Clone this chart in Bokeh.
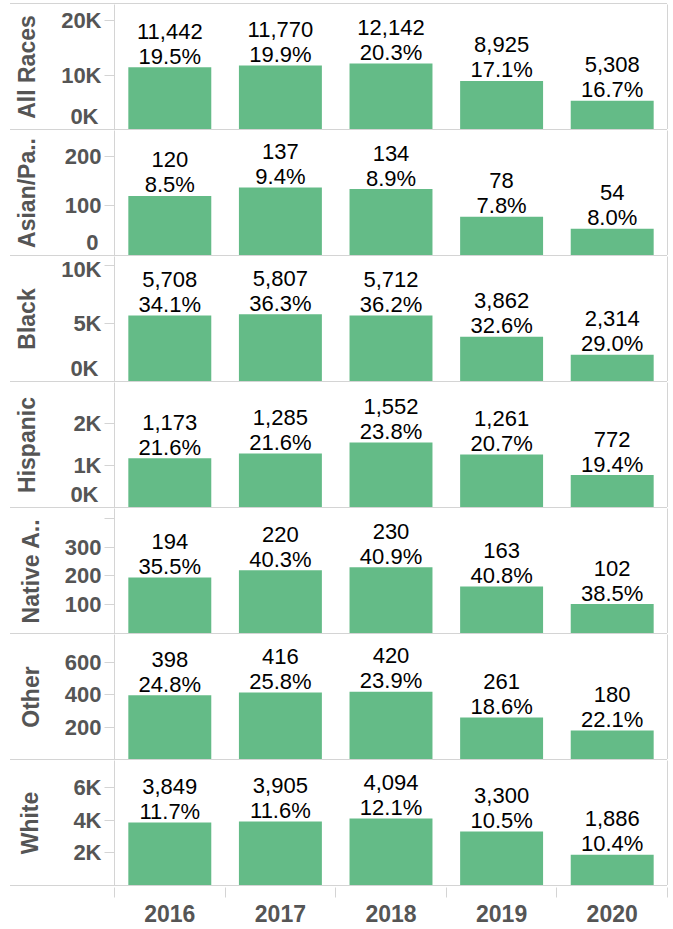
from bokeh.plotting import figure
from bokeh.layouts import column
from bokeh.models import (ColumnDataSource, FactorRange, Range1d, FixedTicker,
                          LinearAxis, CategoricalAxis, Div)
from bokeh.core.properties import value
from bokeh.embed import file_html
from bokeh.resources import INLINE

# ---------------- data ----------------
years = ["2016", "2017", "2018", "2019", "2020"]

all_races = [11442, 11770, 12142, 8925, 5308]
all_races_pct = [19.5, 19.9, 20.3, 17.1, 16.7]
asian = [120, 137, 134, 78, 54]
asian_pct = [8.5, 9.4, 8.9, 7.8, 8.0]
black = [5708, 5807, 5712, 3862, 2314]
black_pct = [34.1, 36.3, 36.2, 32.6, 29.0]
hispanic = [1173, 1285, 1552, 1261, 772]
hispanic_pct = [21.6, 21.6, 23.8, 20.7, 19.4]
native = [194, 220, 230, 163, 102]
native_pct = [35.5, 40.3, 40.9, 40.8, 38.5]
other = [398, 416, 420, 261, 180]
other_pct = [24.8, 25.8, 23.9, 18.6, 22.1]
white = [3849, 3905, 4094, 3300, 1886]
white_pct = [11.7, 11.6, 12.1, 10.5, 10.4]

groups = ["All Races", "Asian/Pa..", "Black", "Hispanic", "Native A..", "Other", "White"]

# labelled ticks (the 0 value is shown as a label only), unlabelled ticks
all_races_ticks = [10000, 20000]
all_races_tick_labels = ["10K", "20K"]
all_races_zero_label = "0K"
asian_ticks = [100, 200]
asian_tick_labels = ["100", "200"]
asian_zero_label = "0"
black_ticks = [5000, 10000]
black_tick_labels = ["5K", "10K"]
black_zero_label = "0K"
hispanic_ticks = [1000, 2000]
hispanic_tick_labels = ["1K", "2K"]
hispanic_zero_label = "0K"
native_ticks = [100, 200, 300]
native_tick_labels = ["100", "200", "300"]
native_unlabelled_ticks = [400]
other_ticks = [200, 400, 600]
other_tick_labels = ["200", "400", "600"]
white_ticks = [2000, 4000, 6000]
white_tick_labels = ["2K", "4K", "6K"]

# axis extents (layout)
y_max = [23000, 252, 10800, 2980, 434, 775, 7640]

panels = [
    (groups[0], all_races, all_races_pct, all_races_ticks, all_races_tick_labels, [], all_races_zero_label),
    (groups[1], asian, asian_pct, asian_ticks, asian_tick_labels, [], asian_zero_label),
    (groups[2], black, black_pct, black_ticks, black_tick_labels, [], black_zero_label),
    (groups[3], hispanic, hispanic_pct, hispanic_ticks, hispanic_tick_labels, [], hispanic_zero_label),
    (groups[4], native, native_pct, native_ticks, native_tick_labels, native_unlabelled_ticks, None),
    (groups[5], other, other_pct, other_ticks, other_tick_labels, [], None),
    (groups[6], white, white_pct, white_ticks, white_tick_labels, [], None),
]

# ---------------- style ----------------
BAR = "#64BB87"
LINE = "#D4D4D4"
AXIS_TXT = "#555555"
FONT = "Liberation Sans"
FRAME_W = 553
FRAME_H = 125
LEFT = 114
TICK_OUT = 10
TICK_STANDOFF = 3
TICK_FS = 22
ZERO_LIFT_PX = 13       # zero label sits inside the panel
ROW_LABEL_POS = 55      # controls the x position of the row titles
LINE_X0 = 10
LINE_W = LEFT + FRAME_W - LINE_X0


def label_width(s, size=TICK_FS):
    return sum(0.722 if ch == "K" else 0.556 for ch in s) * size


def style_axis_text(ax):
    ax.major_label_text_font = FONT
    ax.major_label_text_font_size = f"{TICK_FS}px"
    ax.major_label_text_font_style = "bold"
    ax.major_label_text_color = AXIS_TXT


def style_axis_title(ax, name, standoff):
    ax.axis_label = name
    ax.axis_label_text_font = FONT
    ax.axis_label_text_font_size = "23px"
    ax.axis_label_text_font_style = "bold"
    ax.axis_label_text_color = AXIS_TXT
    ax.axis_label_standoff = int(round(standoff))


def hline(top=0):
    return Div(width=LINE_W, height=1, margin=(top, 0, 0, LINE_X0),
               styles={"background-color": LINE, "overflow": "hidden",
                       "line-height": "0", "font-size": "0"})


items = [hline(3)]
x_range = FactorRange(*years, range_padding=0)
for k, (name, vals, pcts, ticks, tlabels, unlabelled, zero_label) in enumerate(panels):
    p = figure(frame_width=FRAME_W, frame_height=FRAME_H,
               x_range=x_range, y_range=Range1d(0, y_max[k]),
               output_backend="svg", toolbar_location=None,
               x_axis_location=None, y_axis_location=None,
               min_border_left=LEFT, min_border_right=1,
               min_border_top=0, min_border_bottom=0,
               outline_line_color=None, margin=0,
               background_fill_color="white", border_fill_color="white")
    p.xgrid.visible = False
    p.ygrid.visible = False

    src = ColumnDataSource(dict(
        year=years, val=vals,
        cnt=[f"{v:,}" for v in vals],
        pct=[f"{x:.1f}%" for x in pcts],
    ))
    p.vbar(x="year", top="val", width=0.75, source=src,
           fill_color=BAR, line_color=None)
    p.text(x="year", y="val", text="pct", source=src, y_offset=-11,
           text_align="center", text_baseline="alphabetic",
           text_font=value(FONT), text_font_size="22px", text_color="#000000")
    p.text(x="year", y="val", text="cnt", source=src, y_offset=-36,
           text_align="center", text_baseline="alphabetic",
           text_font=value(FONT), text_font_size="22px", text_color="#000000")

    # main y axis: tick marks + labels
    ax = LinearAxis(ticker=FixedTicker(ticks=ticks, minor_ticks=unlabelled),
                    major_label_overrides=dict(zip(ticks, tlabels)),
                    major_tick_out=TICK_OUT, major_tick_in=0,
                    minor_tick_out=TICK_OUT, minor_tick_in=0,
                    major_tick_line_color=LINE, minor_tick_line_color=LINE,
                    axis_line_color=LINE, major_label_standoff=TICK_STANDOFF)
    style_axis_text(ax)
    p.add_layout(ax, "left")
    maxw = max(label_width(l) for l in tlabels)

    if zero_label is not None:
        # zero label, lifted inside the panel, no tick mark
        zpos = ZERO_LIFT_PX / FRAME_H * y_max[k]
        z = LinearAxis(ticker=FixedTicker(ticks=[zpos]),
                       major_label_overrides={zpos: zero_label},
                       major_tick_out=0, major_tick_in=0,
                       major_tick_line_color=None, minor_tick_line_color=None,
                       axis_line_color=None,
                       major_label_standoff=-int(round(maxw)))
        style_axis_text(z)
        style_axis_title(z, name, ROW_LABEL_POS - label_width(zero_label))
        p.add_layout(z, "left")
    else:
        style_axis_title(ax, name, ROW_LABEL_POS - maxw)

    # right border line
    r = LinearAxis(ticker=FixedTicker(ticks=[]), major_tick_out=0, major_tick_in=0,
                   minor_tick_line_color=None, major_tick_line_color=None,
                   axis_line_color=LINE, major_label_standoff=0,
                   major_label_text_font_size="1px", major_label_text_color=None)
    p.add_layout(r, "right")
    items.append(p)
    items.append(hline())

# x axis strip
xa = figure(frame_width=FRAME_W, frame_height=1, x_range=x_range, y_range=Range1d(0, 1),
            output_backend="svg", toolbar_location=None,
            x_axis_location=None, y_axis_location=None,
            min_border_left=LEFT, min_border_right=1,
            min_border_top=0, min_border_bottom=3, outline_line_color=None, margin=0)
xa.xgrid.visible = False
xa.ygrid.visible = False
sep = LinearAxis(ticker=FixedTicker(ticks=list(range(len(years) + 1))),
                 major_tick_out=10, major_tick_in=0,
                 minor_tick_line_color=None, axis_line_color=None,
                 major_tick_line_color=LINE,
                 major_label_text_font_size="1px", major_label_text_color=None,
                 major_label_standoff=0)
xa.add_layout(sep, "below")
cat = CategoricalAxis(major_tick_line_color=None, minor_tick_line_color=None,
                      axis_line_color=None, major_label_text_font=FONT,
                      major_label_text_font_size="23px",
                      major_label_text_font_style="bold",
                      major_label_text_color=AXIS_TXT,
                      major_label_standoff=1)
xa.add_layout(cat, "below")
items.append(xa)

layout = column(*items, spacing=0)
open("out.html", "w").write(file_html(layout, INLINE))
